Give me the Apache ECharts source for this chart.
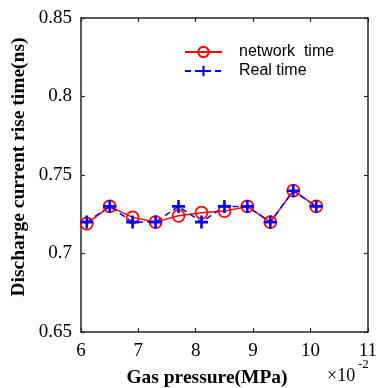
<!DOCTYPE html>
<html><head><meta charset="utf-8">
<script src="https://cdn.jsdelivr.net/npm/echarts@6/dist/echarts.min.js"></script>
<style>html,body{margin:0;padding:0;background:#fff}#c{width:380px;height:388px}</style>
</head><body><div id="c"></div>
<script>
const pressure = [6.1, 6.5, 6.9, 7.3, 7.7, 8.1, 8.5, 8.9, 9.3, 9.7, 10.1];
const networkTime = [0.719, 0.730, 0.723, 0.720, 0.724, 0.726, 0.727, 0.730, 0.720, 0.740, 0.730];
const realTime = [0.720, 0.730, 0.720, 0.720, 0.730, 0.720, 0.730, 0.730, 0.720, 0.740, 0.730];
const seriesNames = ['network  time', 'Real time'];
const xTitle = 'Gas pressure(MPa)';
const yTitle = 'Discharge current rise time(ns)';

const plusPath = 'path://M-1,-0.2L-0.2,-0.2L-0.2,-1L0.2,-1L0.2,-0.2L1,-0.2L1,0.2L0.2,0.2L0.2,1L-0.2,1L-0.2,0.2L-1,0.2Z';
const serif = '"Liberation Serif", "Times New Roman", serif';
const axisCol = '#262626';

const chart = echarts.init(document.getElementById('c'), null, {renderer: 'canvas'});
const axisCommon = {
  axisLine: {show: true, onZero: false, lineStyle: {color: axisCol, width: 1.5}},
  axisTick: {show: true, inside: true, length: 4, lineStyle: {color: axisCol, width: 1.2}},
  splitLine: {show: false}
};
chart.setOption({
  animation: false,
  backgroundColor: '#fff',
  grid: {left: 81, right: 7, top: 18, bottom: 56, containLabel: false},
  legend: {
    top: 44, left: 184, orient: 'vertical', padding: 0, itemGap: 3, itemWidth: 37, itemHeight: 13,
    textStyle: {fontFamily: '"Liberation Sans", Arial, sans-serif', fontSize: 16, color: '#000', padding: [0, 0, 0, 12]},
    data: seriesNames
  },
  xAxis: [
    Object.assign({type: 'value', min: 6, max: 11, interval: 1, position: 'bottom',
      axisLabel: {color: '#000', fontFamily: serif, fontSize: 19, margin: 10,
        formatter: v => String(Math.round(v))}}, axisCommon),
    Object.assign({type: 'value', min: 6, max: 11, interval: 1, position: 'top',
      axisLabel: {show: false}}, axisCommon)
  ],
  yAxis: [
    Object.assign({type: 'value', min: 0.65, max: 0.85, interval: 0.05, position: 'left',
      axisLabel: {color: '#000', fontFamily: serif, fontSize: 19, margin: 9,
        formatter: v => String(Number(v.toFixed(2)))}}, axisCommon),
    Object.assign({type: 'value', min: 0.65, max: 0.85, interval: 0.05, position: 'right',
      axisLabel: {show: false}}, axisCommon)
  ],
  graphic: [
    {type: 'text', x: 207, y: 378, style: {text: xTitle, font: 'bold 19.5px ' + serif, fill: '#000', align: 'center', verticalAlign: 'middle'}},
    {type: 'text', x: 19, y: 167, rotation: Math.PI / 2,
      style: {text: yTitle, font: 'bold 19.5px ' + serif, fill: '#000', align: 'center', verticalAlign: 'middle'}},
    {type: 'text', x: 327, y: 385, style: {text: '×10', font: '18px ' + serif, fill: '#000', align: 'left', verticalAlign: 'bottom'}},
    {type: 'text', x: 358, y: 371, style: {text: '-2', font: '13px ' + serif, fill: '#000', align: 'left', verticalAlign: 'bottom'}}
  ],
  series: [
    {name: seriesNames[0], type: 'line', data: pressure.map((x, i) => [x, networkTime[i]]),
      symbol: 'circle', symbolSize: 12,
      lineStyle: {color: '#ff0000', width: 1.5},
      itemStyle: {color: 'rgba(255,255,255,0)', borderColor: '#ff0000', borderWidth: 1.7}},
    {name: seriesNames[1], type: 'line', data: pressure.map((x, i) => [x, realTime[i]]),
      symbol: plusPath, symbolSize: 13,
      lineStyle: {color: '#0000ff', width: 1.5, type: [6, 4]},
      itemStyle: {color: '#0000ff', borderWidth: 0}}
  ]
});
</script></body></html>
